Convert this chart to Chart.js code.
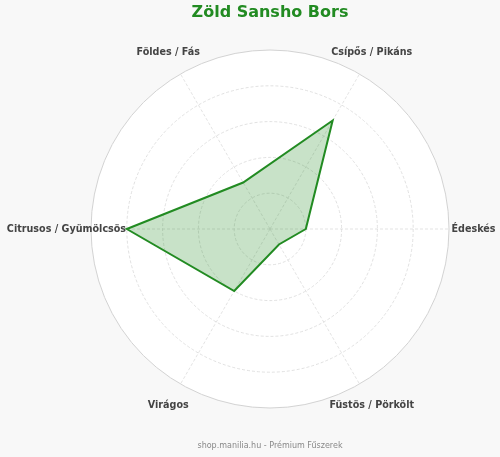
<!DOCTYPE html>
<html>
<head>
<meta charset="utf-8">
<script src="https://cdn.jsdelivr.net/npm/chart.js@4"></script>
<style>
  html, body { margin: 0; padding: 0; background: #f8f8f8; }
  #wrap { width: 500px; height: 457px; position: relative; }
</style>
</head>
<body>
<div id="wrap"><canvas id="c"></canvas></div>
<script>
// ---- data ----
const categories = ['Édeskés', 'Füstös / Pörkölt', 'Virágos', 'Citrusos / Gyümölcsös', 'Földes / Fás', 'Csípős / Pikáns'];
const values = [2, 1, 4, 8, 3, 7];
const scaleMax = 10;
const tickStep = 2;
const titleText = 'Zöld Sansho Bors';
const footerText = 'shop.manilia.hu - Prémium Fűszerek';

// ---- styles ----
const GREEN = '#228B22';
const LABEL_DISTANCE = 1.137;

const centeredPointLabels = {
  id: 'centeredPointLabels',
  afterDraw(chart) {
    const scale = chart.scales.r;
    const ctx = chart.ctx;
    ctx.save();
    ctx.font = 'bold 9.6px "DejaVu Sans"';
    ctx.fillStyle = '#444444';
    ctx.textAlign = 'center';
    ctx.textBaseline = 'middle';
    chart.data.labels.forEach((label, i) => {
      const p = scale.getPointPosition(i, scale.drawingArea * LABEL_DISTANCE);
      ctx.fillText(label, p.x, p.y);
    });
    ctx.restore();
  }
};

new Chart(document.getElementById('c'), {
  type: 'radar',
  data: {
    labels: categories,
    datasets: [{
      data: values,
      borderColor: GREEN,
      borderWidth: 2,
      backgroundColor: 'rgba(34,139,34,0.25)',
      fill: true,
      pointRadius: 0,
      pointHoverRadius: 0,
      tension: 0
    }]
  },
  options: {
    responsive: true,
    maintainAspectRatio: false,
    animation: false,
    events: [],
    layout: { padding: { left: 40, right: 0, top: 0, bottom: 0 } },
    plugins: {
      legend: { display: false },
      tooltip: { enabled: false },
      title: {
        display: true,
        text: titleText,
        color: GREEN,
        font: { family: '"DejaVu Sans"', size: 16, weight: 'bold', lineHeight: 1.25 },
        padding: { top: 3, bottom: 27 }
      },
      subtitle: {
        display: true,
        position: 'bottom',
        text: footerText,
        color: '#888888',
        font: { family: '"DejaVu Sans"', size: 8, weight: 'normal', lineHeight: 1.25 },
        padding: { top: 33, bottom: 6 }
      }
    },
    scales: {
      r: {
        min: 0,
        max: scaleMax,
        startAngle: 90,
        backgroundColor: '#ffffff',
        ticks: { display: false, stepSize: tickStep },
        pointLabels: { display: false },
        grid: {
          circular: true,
          color: (c) => (c.tick && c.tick.value === scaleMax) ? '#d2d2d2' : '#d9d9d9',
          lineWidth: (c) => (c.tick && c.tick.value === scaleMax) ? 1 : 0.8
        },
        border: {
          dash: (c) => (c.tick && c.tick.value === scaleMax) ? [] : [3, 2]
        },
        angleLines: {
          display: true,
          color: '#dcdcdc',
          lineWidth: 0.8,
          borderDash: [3, 2]
        }
      }
    }
  },
  plugins: [centeredPointLabels]
});
</script>
</body>
</html>
